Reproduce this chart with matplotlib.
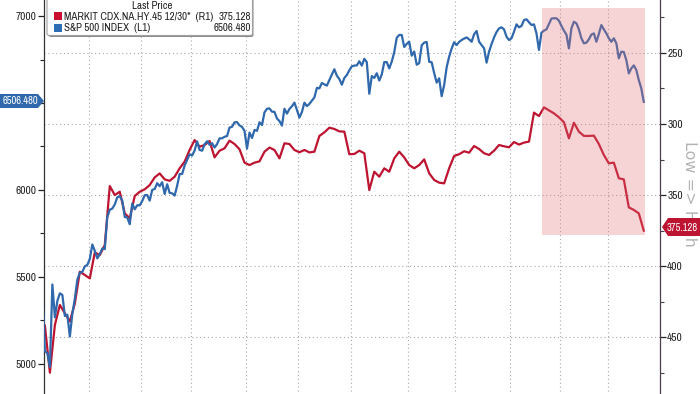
import numpy as np
import pandas as pd
import matplotlib
matplotlib.use("Agg")
import matplotlib.pyplot as plt
from matplotlib import font_manager
from matplotlib.font_manager import FontProperties
from matplotlib.patches import Rectangle, Polygon, FancyBboxPatch

# trading calendar (NYSE holidays in the window)
nyse_holidays = ["2025-04-18", "2025-05-26", "2025-06-19", "2025-07-04", "2025-09-01",
                 "2025-11-27", "2025-12-25", "2026-01-01", "2026-01-19", "2026-02-16"]
dates = pd.bdate_range("2025-04-03", "2026-03-20", freq="C", holidays=nyse_holidays)

# S&P 500 daily close (left axis)
spx = [
    5397, 5074, 5062, 4983, 5457, 5268, 5363, 5406, 5397, 5276, 5283, 5158, 5288, 5376, 5485, 5525, 5529, 5561, 5569,
    5604, 5687, 5650, 5607, 5631, 5664, 5660, 5844, 5887, 5893, 5917, 5958, 5964, 5940, 5845, 5842, 5803, 5922, 5889, 5912, 5912,
    5936, 5970, 5971, 5939, 6000, 6006, 6039, 6022, 6045, 5977, 6033, 5983, 5981, 5968, 6025, 6092, 6092, 6141, 6173, 6205,
    6198, 6227, 6279, 6230, 6226, 6263, 6280, 6260, 6269, 6244, 6264, 6297, 6297, 6306, 6310, 6359, 6363, 6389, 6390, 6371, 6363, 6339,
    6238, 6330, 6299, 6345, 6340, 6389, 6373, 6446, 6467, 6469, 6450, 6449, 6411, 6396, 6370, 6467, 6439, 6466, 6481, 6502, 6460,
    6416, 6448, 6502, 6482, 6495, 6513, 6532, 6587, 6584, 6615, 6607, 6600, 6632, 6664, 6694, 6657, 6638, 6605, 6644, 6661, 6688,
    6711, 6715, 6716, 6740, 6715, 6754, 6735, 6553, 6655, 6644, 6671, 6629, 6664, 6735, 6735, 6699, 6738, 6792, 6875, 6891, 6891, 6822, 6840,
    6852, 6772, 6796, 6720, 6729, 6832, 6847, 6851, 6737, 6734, 6672, 6617, 6642, 6539, 6603, 6705, 6766, 6813, 6849,
    6833, 6851, 6862, 6870, 6877, 6866, 6852, 6895, 6914, 6852, 6833, 6814, 6732, 6795, 6839, 6877, 6908, 6929, 6935, 6923,
    6881, 6862, 6872, 6910, 6952, 6935, 6943, 6977, 6981, 6964, 6948, 6952, 6900, 6805, 6904, 6916, 6923, 6954, 6985, 6987,
    6987, 6973, 6943, 6916, 6893, 6814, 6929, 6967, 6958, 6923, 6872, 6843, 6847, 6866, 6893, 6900, 6852, 6897, 6948, 6923,
    6900, 6872, 6852, 6872, 6843, 6757, 6795, 6793, 6747, 6670, 6699, 6716, 6690, 6632, 6584, 6506.48,
]

# MARKIT CDX.NA.HY spread, every second session starting 2025-04-04 (right axis, inverted)
cdx = [
    442, 475.1, 441.5, 427.4, 433.3, 439, 426.3, 404, 406.3, 408.7,
    390.4, 392.3, 385.2, 343.7, 350, 347.7, 362.9, 366.4, 350.7, 347.7,
    346, 343, 337.6, 334.8, 339, 340, 337.1, 331.2, 326.5, 318.3,
    311.3, 316, 314.8, 312, 323.5, 318.8, 317.1, 311.7, 314.1, 317.8,
    327.2, 328.9, 327.2, 326.3, 319.5, 316.6, 318.3, 324.2, 313.6, 314.1,
    318.3, 319.9, 318.3, 320, 319.5, 308.4, 305.9, 302.6, 303.5, 305.2,
    305.4, 321.3, 321.1, 318.8, 320.6, 346.5, 333.6, 337.1, 331.2, 333.6,
    324.2, 319.5, 323.5, 328.9, 331.2, 328.9, 324.9, 334.7, 339.4, 341.3,
    341.8, 331.2, 322.5, 321.3, 319.2, 320.2, 315.5, 317.6, 320.6, 321.8,
    318.8, 314.8, 315.7, 316.4, 312.7, 314.5, 313.1, 312.4, 292, 294.4,
    288.3, 290.4, 292.5, 295.3, 298.8, 310.1, 299.1, 305.4, 308.4, 308.4,
    308.2, 314.1, 321.8, 327.7, 327.2, 338.2, 339, 358.7, 360.5, 362.9,
    375.128,
]

left_ticks = [5000, 5500, 6000, 6500, 7000]
left_labels = ["5000", "5500", "6000", "", "7000"]   # 6500 sits under the last-price tag
right_ticks = [250, 300, 350, 400, 450]

legend_title = "Last Price"
cdx_name = "MARKIT CDX.NA.HY.45 12/30*  (R1)"
spx_name = "S&P 500 INDEX  (L1)"
cdx_last = "375.128"
spx_last = "6506.480"
side_note = "Low => High"

BLUE = "#2f68ac"
RED = "#bd1431"
GRID = "#a9a9a9"


def narrow_font():
    # prefer any narrow / condensed regular sans, else regular Liberation Sans
    good = [f for f in font_manager.fontManager.ttflist
            if f.style == "normal" and f.weight in (400, "normal", "regular")]
    for f in good:
        if "Narrow" in f.name:
            return f.fname, True
    for f in good:
        if "Condensed" in f.name or "condensed" in str(f.stretch):
            return f.fname, True
    return font_manager.findfont("Liberation Sans"), False


fname, is_narrow = narrow_font()
fp = FontProperties(fname=fname, size=7.9 if is_narrow else 6.3)
fp_tag = FontProperties(fname=fname, size=7.6 if is_narrow else 6.2)
fp_tick = FontProperties(fname=fname, size=8.2 if is_narrow else 6.8)

W, H = 700, 394


def fx(px):
    return px / W


def fy(py):
    return 1 - py / H


fig = plt.figure(figsize=(7, 3.94), dpi=100)
fig.patch.set_facecolor("white")

# axes run past the bottom edge of the picture (cropped like the original)
ax = fig.add_axes([fx(44), fy(420), fx(660) - fx(44), fy(0) - fy(420)])
ax2 = ax.twinx()
ax.set_zorder(ax2.get_zorder() + 1)
ax.patch.set_visible(False)

x_spx = np.arange(len(spx))
x_cdx = 1 + 2 * np.arange(len(cdx))

ax2.plot(x_cdx, cdx, color=RED, lw=1.6, solid_joinstyle="round")
ax.plot(x_spx, spx, color=BLUE, lw=1.6, solid_joinstyle="round", zorder=3)

ax.set_xlim(0.64, 247.5)
ax.set_ylim(4678, 7092)
ax2.set_ylim(508.4, 212.7)

# month gridlines between the last and first sessions of each month
month = np.asarray(dates.month)
month_start = np.flatnonzero(month[1:] != month[:-1]) + 1
for m in month_start:
    ax2.axvline(m - 0.5, color=GRID, lw=0.8, ls=(0, (1, 2.5)), zorder=0)
ax2.yaxis.grid(True, color=GRID, lw=0.8, ls=(0, (1, 2.5)))

# shaded recent period
ax.add_patch(Rectangle((200.2, 5741), 41.3, 1305, facecolor=(228 / 255, 112 / 255, 115 / 255),
                       alpha=0.3, lw=0, zorder=5))

ax.set_yticks(left_ticks)
ax.set_yticklabels(left_labels)
ax.set_yticks([4750, 5250, 5750, 6250, 6750], minor=True)
ax2.set_yticks(right_ticks)
ax2.set_yticks([225, 275, 325, 375, 425, 475], minor=True)
ax.set_xticks([])
ax2.set_xticks([])

ax.tick_params(axis="y", which="major", length=4.5, width=0.9, pad=1.2, colors="#222222")
ax.tick_params(axis="y", which="minor", length=3, width=0.8, colors="#222222")
ax2.tick_params(axis="y", which="major", length=4, width=0.9, pad=1.2, colors="#222222")
ax2.tick_params(axis="y", which="minor", length=3, width=0.8, colors="#4a3f48")
for lbl in ax.get_yticklabels() + ax2.get_yticklabels():
    lbl.set_fontproperties(fp_tick)

for a in (ax, ax2):
    for s in ("top", "bottom"):
        a.spines[s].set_visible(False)
ax.spines["right"].set_visible(False)
ax2.spines["left"].set_visible(False)
ax.spines["left"].set_color("#333333")
ax.spines["left"].set_linewidth(0.9)
ax2.spines["right"].set_color("#4a3f48")
ax2.spines["right"].set_linewidth(0.9)

tf = fig.transFigure

# legend box
shadow = FancyBboxPatch((fx(48.5), fy(37)), fx(253.5) - fx(48.5), fy(-10) - fy(37),
                        boxstyle="round,pad=0,rounding_size=0.004", transform=tf,
                        facecolor="#8c8c8c", edgecolor="none", zorder=4)
box = FancyBboxPatch((fx(47), fy(35.5)), fx(252.5) - fx(47), fy(-10) - fy(35.5),
                     boxstyle="round,pad=0,rounding_size=0.004", transform=tf,
                     facecolor="white", edgecolor="#a0a0a0", lw=0.8, zorder=4.5)
fig.patches.extend([shadow, box])
fig.text(fx(152), fy(6), legend_title, ha="center", va="center", fontproperties=fp,
         color="#222222", zorder=6)
fig.patches.append(Rectangle((fx(53.5), fy(20)), fx(8), fy(12.5) - fy(20), transform=tf,
                             facecolor="#c8102e", edgecolor="none", zorder=6))
fig.patches.append(Rectangle((fx(53.5), fy(31.5)), fx(8), fy(24) - fy(31.5), transform=tf,
                             facecolor="#2e6db4", edgecolor="none", zorder=6))
fig.text(fx(64), fy(16.5), cdx_name, ha="left", va="center", fontproperties=fp, color="#222222", zorder=6)
fig.text(fx(251.5), fy(16.5), cdx_last, ha="right", va="center", fontproperties=fp, color="#222222", zorder=6)
fig.text(fx(64), fy(28), spx_name, ha="left", va="center", fontproperties=fp, color="#222222", zorder=6)
fig.text(fx(251.5), fy(28), spx_last, ha="right", va="center", fontproperties=fp, color="#222222", zorder=6)

# right-side orientation note
fig.text(fx(690), fy(194), side_note, rotation=-90, ha="center", va="center", fontsize=11.5,
         color="#b4b4b4", family="DejaVu Sans", zorder=3)

# last-value tags
tag_l = Polygon([(fx(0), fy(94)), (fx(38), fy(94)), (fx(44), fy(101)), (fx(38), fy(108)), (fx(0), fy(108))],
                closed=True, transform=tf, facecolor=BLUE, edgecolor="none", zorder=5)
tag_r = Polygon([(fx(662), fy(227)), (fx(668), fy(218)), (fx(700), fy(218)), (fx(700), fy(236)), (fx(668), fy(236))],
                closed=True, transform=tf, facecolor=RED, edgecolor="none", zorder=5)
fig.patches.extend([tag_l, tag_r])
fig.text(fx(20), fy(101.5), spx_last, ha="center", va="center", fontproperties=fp_tag, color="white", zorder=6)
fig.text(fx(682.5), fy(227.5), cdx_last, ha="center", va="center", fontproperties=fp_tag, color="white", zorder=6)

fig.savefig("out.png", dpi=100, facecolor="white")
